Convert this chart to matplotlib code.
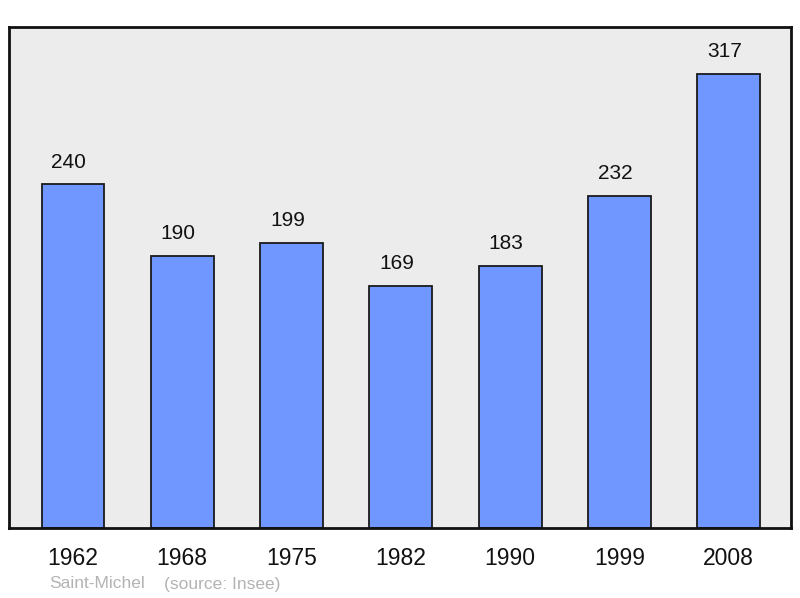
import matplotlib
matplotlib.use("Agg")
import matplotlib.pyplot as plt

years = ["1962", "1968", "1975", "1982", "1990", "1999", "2008"]
population = [240, 190, 199, 169, 183, 232, 317]
commune = "Saint-Michel"
source = "(source: Insee)"

plt.rcParams['font.family'] = ['Liberation Sans', 'DejaVu Sans']

W, H = 800, 598
fig = plt.figure(figsize=(W / 100, H / 100), dpi=100)
fig.patch.set_facecolor('white')
ax = fig.add_axes([9 / W, 1 - 528 / H, (791 - 9) / W, (528 - 27) / H])
ax.set_facecolor('#ececec')

x = list(range(len(years)))
bars = ax.bar(x, population, width=0.575, color='#7097ff', edgecolor='#1a1a1a',
              linewidth=1.3, zorder=2)
for xi, v in zip(x, population):
    ax.annotate(str(v), (xi, v), xytext=(-2.9, 15.8), textcoords='offset points',
                ha='center', va='center', fontsize=15, color='#111111')

ax.set_xlim(-0.585, 6.57)
ax.set_ylim(0, 349.6)
ax.set_xticks(x)
ax.set_xticklabels(years, fontsize=16.5, color='#111111')
ax.tick_params(axis='x', length=0, pad=14)
ax.set_yticks([])
for s in ax.spines.values():
    s.set_linewidth(2)
    s.set_color('#111111')

fig.text(49 / W, 1 - 584 / H, commune, fontsize=12.5, color='#b3b3b3', va='center', ha='left')
fig.text(164 / W, 1 - 584 / H, source, fontsize=12.5, color='#b3b3b3', va='center', ha='left')

fig.savefig('out.png', dpi=100, facecolor='white')
